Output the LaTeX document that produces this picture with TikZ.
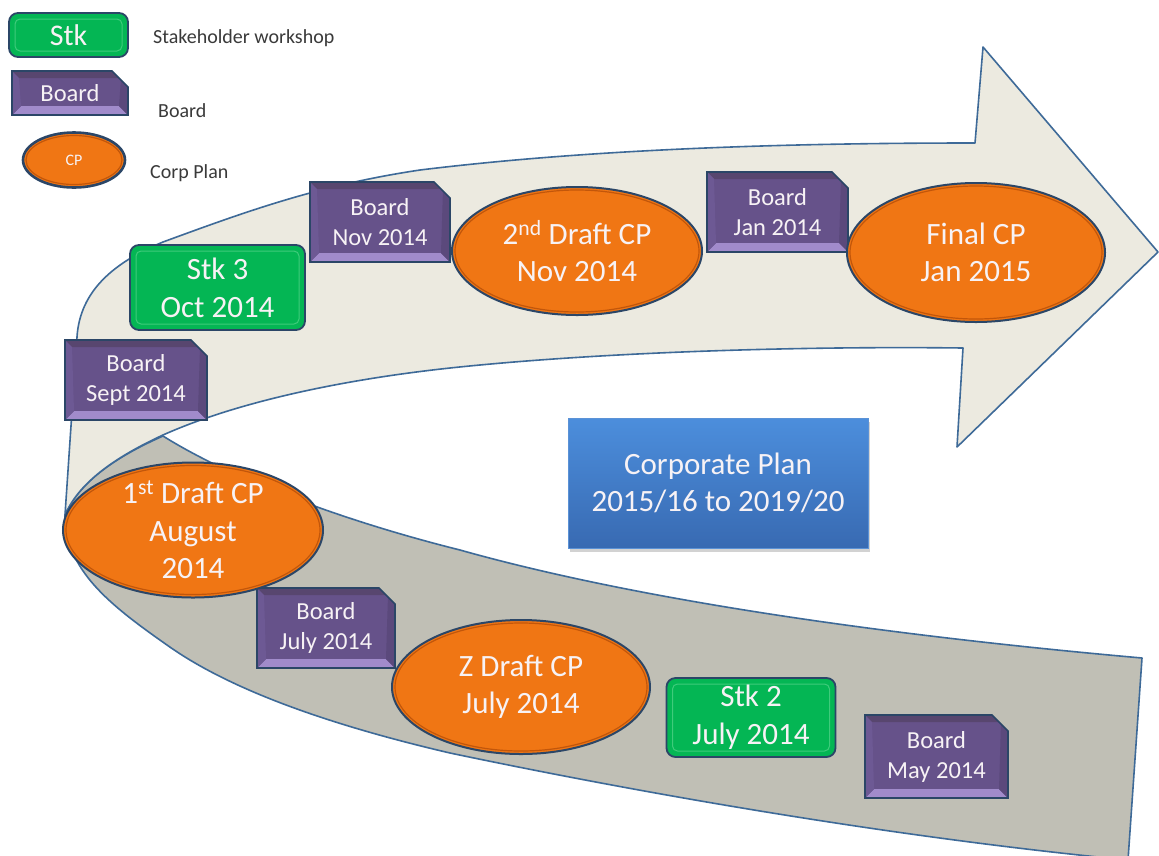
\documentclass[tikz,border=0pt]{standalone}
\usepackage{fontspec}
\setmainfont{Carlito}
\usetikzlibrary{shapes.geometric,shapes.misc,shadows,calc}

\definecolor{bandedge}{HTML}{3E6A98}
\definecolor{frontband}{HTML}{ECEAE0}
\definecolor{backband}{HTML}{C0BFB5}
\definecolor{nodeedge}{HTML}{2B4667}
\definecolor{cporange}{HTML}{F07614}
\definecolor{cpring}{HTML}{C2560A}
\definecolor{stkgreen}{HTML}{04B654}
\definecolor{stkinner}{HTML}{3FCB7B}
\definecolor{brdpurple}{HTML}{66528A}
\definecolor{brdtop}{HTML}{58466F}
\definecolor{brdbottom}{HTML}{A18BCB}
\definecolor{brdleft}{HTML}{6D5994}
\definecolor{brdright}{HTML}{5B497C}
\definecolor{plantop}{HTML}{4C8EDC}
\definecolor{planbottom}{HTML}{386AB2}
\definecolor{planedge}{HTML}{5B92D6}
\definecolor{nodetext}{HTML}{F7F2F5}
\definecolor{legendtext}{HTML}{3A3A3A}

\tikzset{
  band/.style={draw=bandedge, line width=1.6pt, line join=round},
  cpellipse/.style={ellipse, draw=nodeedge, line width=2pt, fill=cporange,
    inner sep=-12pt, text=nodetext, align=center,
    font=\fontsize{31}{37.5}\selectfont,
    path picture={\draw[cpring, line width=1.2pt]
      let \p1=(path picture bounding box.north east),
          \p2=(path picture bounding box.center) in
      (\p2) ellipse [x radius=\x1-\x2-3pt, y radius=\y1-\y2-3pt];}},
  stkbox/.style={rectangle, rounded corners=9pt, draw=nodeedge, line width=1.8pt,
    fill=stkgreen, inner sep=0pt, text=nodetext, align=center,
    font=\fontsize{31}{38}\selectfont,
    path picture={\draw[stkinner, line width=1pt, rounded corners=5pt]
      ($(path picture bounding box.south west)+(6pt,6pt)$) rectangle
      ($(path picture bounding box.north east)+(-6pt,-6pt)$);}},
  boardbox/.style={chamfered rectangle, chamfered rectangle corners=north east,
    chamfered rectangle xsep=8pt, chamfered rectangle ysep=8pt,
    draw=nodeedge, line width=1.6pt, fill=brdpurple, inner sep=0pt,
    text=nodetext, align=center, font=\fontsize{24.5}{30}\selectfont,
    path picture={
      \fill[brdbottom] (path picture bounding box.south west)
        -- (path picture bounding box.south east) -- ++(-9pt,9pt)
        -- ($(path picture bounding box.south west)+(9pt,9pt)$) -- cycle;
      \fill[brdtop] (path picture bounding box.north west)
        -- (path picture bounding box.north east) -- ++(-7pt,-7pt)
        -- ($(path picture bounding box.north west)+(7pt,-7pt)$) -- cycle;
      \fill[brdleft] (path picture bounding box.south west)
        -- ++(9pt,9pt)
        -- ($(path picture bounding box.north west)+(7pt,-7pt)$)
        -- (path picture bounding box.north west) -- cycle;
      \fill[brdright] (path picture bounding box.south east)
        -- ++(-9pt,9pt)
        -- ($(path picture bounding box.north east)+(-7pt,-7pt)$)
        -- (path picture bounding box.north east) -- cycle;}},
  planbox/.style={rectangle, draw=planedge, line width=0.8pt,
    top color=plantop, bottom color=planbottom, inner sep=0pt,
    text=nodetext, align=center, font=\fontsize{31}{37}\selectfont,
    drop shadow={shadow xshift=2pt, shadow yshift=-4pt, opacity=0.35}},
  legendlabel/.style={anchor=west, inner sep=0pt, text=legendtext,
    font=\fontsize{20}{24}\selectfont}
}

\begin{document}
\begin{tikzpicture}[x=1pt,y=-1pt]
\useasboundingbox[fill=white] (0,0) rectangle (1159,855);

% back half of the ribbon (lower, grey)
\filldraw[band, fill=backband]
  (65,515) .. controls (80,480) and (120,455) .. (163,436)
  .. controls (230,478) and (340,520) .. (460,550)
  .. controls (620,595) and (850,632) .. (1142,658)
  -- (1128,860)
  .. controls (900,838) and (650,795) .. (450,753)
  .. controls (330,725) and (230,690) .. (167,645)
  .. controls (110,605) and (65,570) .. (65,515) -- cycle;

% front half of the ribbon with the arrow head
\filldraw[band, fill=frontband]
  (65,515) -- (77,337)
  .. controls (80,290) and (115,262) .. (163,242)
  .. controls (250,210) and (320,185) .. (420,170)
  .. controls (600,148) and (800,143) .. (975,143)
  -- (983,47) -- (1158,252) -- (957,447) -- (963,348)
  .. controls (800,346) and (600,352) .. (450,368)
  .. controls (330,381) and (230,405) .. (163,435)
  .. controls (120,455) and (80,480) .. (65,515) -- cycle;

% legend
\node[stkbox, minimum width=119pt, minimum height=44pt, font=\fontsize{30}{36}\selectfont]
  (lstk) at (68.5,35) {Stk};
\node[legendlabel] (lstktext) at (153,38) {Stakeholder\ workshop};
\node[boardbox, minimum width=116pt, minimum height=44pt] (lboard) at (70,93) {Board};
\node[legendlabel] (lboardtext) at (158,111) {Board};
\node[cpellipse, minimum width=102pt, minimum height=55pt, line width=2.6pt,
  inner sep=0pt, font=\fontsize{16}{19}\selectfont] (lcp) at (74,160) {CP};
\node[legendlabel] (lcptext) at (150,173) {Corp Plan};

% central title
\node[planbox, minimum width=300pt, minimum height=130pt] (plan) at (718,483)
  {Corporate Plan\\2015/16 to 2019/20};

% board meetings and stakeholder workshops
\node[boardbox, minimum width=143pt, minimum height=83pt] (bmay) at (936.5,756.5) {Board\\May 2014};
\node[stkbox, minimum width=169pt, minimum height=79pt] (stk2) at (751,717.5) {Stk 2\\July 2014};
\node[boardbox, minimum width=138pt, minimum height=80pt] (bjul) at (326,628) {Board\\July 2014};
\node[boardbox, minimum width=142pt, minimum height=80pt] (bsep) at (136,380) {Board\\Sept 2014};
\node[stkbox, minimum width=175pt, minimum height=85pt] (stk3) at (217.5,287.5) {Stk 3\\Oct 2014};
\node[boardbox, minimum width=140pt, minimum height=80pt] (bnov) at (380,222) {Board\\Nov 2014};
\node[boardbox, minimum width=141pt, minimum height=80pt] (bjan) at (777.5,212) {Board\\Jan 2014};

% corporate plan drafts
\node[cpellipse, minimum width=258pt, minimum height=134pt] (zdraft) at (521,687) {Z Draft CP\\July 2014};
\node[cpellipse, minimum width=260pt, minimum height=135pt] (draft1) at (193,530)
  {1\textsuperscript{st} Draft CP\\August\\2014};
\node[cpellipse, minimum width=250pt, minimum height=128pt] (draft2) at (577,251)
  {2\textsuperscript{nd} Draft CP\\Nov 2014};
\node[cpellipse, minimum width=258pt, minimum height=139pt] (final) at (976,252.5)
  {Final CP\\Jan 2015};
\end{tikzpicture}
\end{document}
